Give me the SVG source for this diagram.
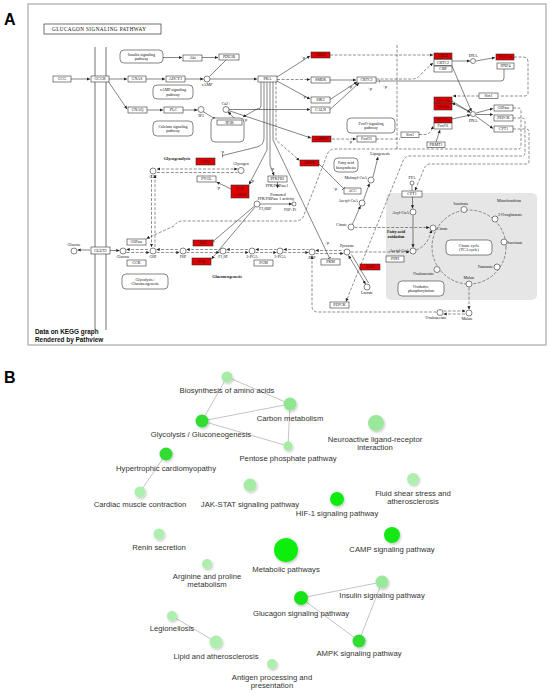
<svg xmlns="http://www.w3.org/2000/svg" width="550" height="694" viewBox="0 0 550 694">
<style>
.bx{fill:#fff;stroke:#333;stroke-width:0.6}
.rd{fill:#e00000;stroke:#333;stroke-width:0.6}
.pw{fill:#fff;stroke:#333;stroke-width:0.6}
.c{fill:#fff;stroke:#333;stroke-width:0.6}
.t{font-family:"Liberation Serif",serif;font-size:4px;fill:#111;text-anchor:middle}
.tl{font-family:"Liberation Serif",serif;font-size:4px;fill:#111;text-anchor:end}
.ts{font-family:"Liberation Serif",serif;font-size:4px;fill:#111;text-anchor:start}
.tr{font-family:"Liberation Serif",serif;font-size:4px;fill:#500;text-anchor:middle}
.tb{font-family:"Liberation Serif",serif;font-size:4.2px;font-weight:bold;fill:#111;text-anchor:middle}
.ln{fill:none;stroke:#333;stroke-width:0.6}
.ds{fill:none;stroke:#444;stroke-width:0.6;stroke-dasharray:3,1.6}
.la{font-family:"Liberation Sans",Arial,sans-serif;font-size:7.7px;fill:#333;text-anchor:middle}
.ed{stroke:#c4c4c4;stroke-width:1;fill:none}
.nd{filter:url(#sh)}
</style>
<defs>
<marker id="a" viewBox="0 0 6 6" refX="6" refY="3" markerWidth="3.2" markerHeight="3.2" markerUnits="userSpaceOnUse" orient="auto-start-reverse"><path d="M0,0L6,3L0,6z" fill="#222"/></marker>
<marker id="tb" viewBox="0 0 2 8" refX="1" refY="4" markerWidth="1" markerHeight="4" markerUnits="userSpaceOnUse" orient="auto"><path d="M1,0V8" stroke="#222" stroke-width="1.2"/></marker>
<filter id="sh" x="-60%" y="-60%" width="220%" height="220%"><feDropShadow dx="1" dy="1.5" stdDeviation="1.3" flood-color="#000" flood-opacity="0.22"/></filter>
</defs>
<rect width="550" height="694" fill="#fff"/>

<!-- Panel A -->
<text x="4" y="25" font-family="Liberation Sans,Arial,sans-serif" font-size="16" font-weight="bold" fill="#000">A</text>
<rect x="28" y="4" width="518" height="341" fill="#fff" stroke="#a8a8a8" stroke-width="1.2"/>
<g id="title"><rect x="44" y="24" width="117" height="10" fill="#fff" stroke="#333" stroke-width="0.7"/><text x="52" y="31" font-family="Liberation Serif,serif" font-size="5.2" fill="#111" textLength="94">GLUCAGON SIGNALING PATHWAY</text></g>
<rect x="386" y="193" width="151" height="107" rx="5" fill="#e6e6e6"/>
<g id="membrane" stroke="#8a8a8a" stroke-width="1.2"><line x1="95" y1="47" x2="95" y2="330"/><line x1="106" y1="47" x2="106" y2="330"/></g>
<line x1="397" y1="45" x2="397" y2="149" class="ds"/>

<g id="connectors-A">
<path class="ln" marker-end="url(#a)" d="M71,79H90"/>
<path class="ln" marker-end="url(#a)" d="M109,79H127"/>
<path class="ln" marker-end="url(#a)" d="M108,81L127,109"/>
<path class="ln" marker-end="url(#a)" d="M146,79H165"/>
<path class="ln" marker-end="url(#a)" d="M185,79H203.5"/>
<path class="ln" marker-end="url(#a)" d="M210,79H257"/>
<path class="ln" marker-end="url(#a)" d="M163,57.5H182"/>
<path class="ln" marker-end="url(#a)" d="M202,57.5H218"/>
<path class="ln" d="M226,60L209.5,76.5"/>
<path class="ln" marker-end="url(#a)" d="M147,110H163"/>
<path class="ln" marker-end="url(#a)" d="M183,110H197.5"/>
<path class="ln" marker-end="url(#a)" d="M203,111.5L216,119.5"/>
<path class="ln" marker-end="url(#a)" d="M236,120L228,111.8"/>
<path class="ln" marker-end="url(#a)" d="M229,109.5H310"/>
<path class="ln" marker-end="url(#a)" d="M228.8,110.6L311,138"/>
<path class="ds" marker-end="url(#a)" d="M332,139H356"/>
<path class="ln" marker-end="url(#a)" d="M277,77L310,56"/>
<path class="ds" marker-end="url(#a)" d="M277,79.5H310"/>
<path class="ln" marker-end="url(#a)" d="M277,81L310,99"/>
<path class="ln" marker-end="url(#a)" d="M330,80H356"/>
<path class="ln" marker-end="url(#a)" d="M330,99.5L357,82"/>
<path class="ln" marker-end="url(#a)" d="M330,109.5L359,83"/>
<path class="ds" marker-end="url(#a)" d="M330,55H433"/>
<path class="ds" marker-end="url(#a)" d="M376,79H412Q418,79 422,73L433,63"/>
<path class="ln" marker-start="url(#tb)" d="M379,81H501Q504,81 504,78V69"/>
<path class="ln" d="M376,81H379"/>
<path class="ln" marker-end="url(#a)" d="M452,61H470"/>
<path class="ln" marker-end="url(#a)" d="M476,61L495,57.5"/>
<path class="ds" d="M514,57H523Q528,57 528,62V93Q528,96 524,96H499"/>
<path class="ds" marker-end="url(#a)" d="M479,96H453"/>
<path class="ln" marker-end="url(#a)" d="M452,66L471.5,111.5"/>
<path class="ln" marker-end="url(#a)" d="M452,101L470.5,112.5"/>
<path class="ln" marker-end="url(#a)" d="M452,119L470.5,115"/>
<path class="ln" marker-end="url(#a)" d="M470,112L452,103"/>
<path class="ln" marker-end="url(#a)" d="M476,113L493,108.5"/>
<path class="ln" marker-end="url(#a)" d="M476,114.5H493"/>
<path class="ln" marker-end="url(#a)" d="M475.5,116L493,128.5"/>
<path class="ds" marker-end="url(#a)" d="M419,134.5H426Q431,134 433,126"/>
<path class="ln" marker-end="url(#a)" d="M436,142L440,130"/>
<path class="ds" d="M376,139H400"/>
<!-- PKA bundle -->
<path class="ln" marker-end="url(#a)" d="M261,82V106Q261,109 257,109L243,117"/>
<path class="ln" marker-end="url(#tb)" d="M264,82V138Q264,145 257,147L222.5,155.5"/>
<path class="ln" marker-end="url(#a)" d="M267,82V150L249,184.5"/>
<path class="ln" marker-end="url(#a)" d="M270,82V165L274,175.5"/>
<path class="ln" marker-end="url(#tb)" d="M273,82V140L329.5,258"/>
<path class="ds" marker-end="url(#a)" d="M276,82V140L299.5,160.5"/>
<path class="ln" marker-end="url(#tb)" d="M319,164L343.5,188.5"/>
<path class="ln" marker-end="url(#a)" d="M231,189L216.5,182"/>
<path class="ln" marker-end="url(#a)" d="M277.5,182V188"/>
<!-- glycogen -->
<path class="ds" marker-start="url(#a)" marker-end="url(#a)" d="M157,169H237.5"/>
<path class="ds" d="M157,172.5H237.5"/>
<path class="ds" marker-end="url(#a)" d="M151.5,175V247"/>
<path class="ds" marker-start="url(#a)" d="M155,175V247"/>
<!-- glucose row -->
<path class="ln" marker-end="url(#a)" d="M90,250H77.5"/>
<path class="ln" marker-end="url(#a)" d="M110,250.5H119.5"/>
<path class="ds" marker-start="url(#a)" d="M126.5,249.5H149.5"/>
<path class="ds" marker-end="url(#a)" d="M126.5,252.5H149.5"/>
<path class="ds" marker-start="url(#a)" d="M156.5,249.5H179.5"/>
<path class="ds" marker-end="url(#a)" d="M156.5,252.5H179.5"/>
<path class="ds" marker-start="url(#a)" d="M186.5,249.5H219.5"/>
<path class="ds" marker-end="url(#a)" d="M186.5,252.5H219.5"/>
<path class="ds" marker-start="url(#a)" d="M226.5,249.5H248.5"/>
<path class="ds" marker-end="url(#a)" d="M226.5,252.5H248.5"/>
<path class="ds" marker-start="url(#a)" d="M255.5,249.5H276.5"/>
<path class="ds" marker-end="url(#a)" d="M255.5,252.5H276.5"/>
<path class="ds" marker-start="url(#a)" d="M283.5,249.5H308.5"/>
<path class="ds" marker-end="url(#a)" d="M283.5,252.5H308.5"/>
<path class="ds" marker-start="url(#a)" d="M315.5,250.5H343.5"/>
<path class="ds" marker-end="url(#a)" d="M315.5,253.5H343.5"/>
<path class="ln" marker-end="url(#tb)" d="M254.5,206L213.5,241"/>
<path class="ln" marker-end="url(#a)" d="M255,207L211.5,259"/>
<path class="ln" marker-end="url(#a)" d="M260,204H292"/>
<path class="ln" marker-start="url(#a)" marker-end="url(#a)" d="M348.5,255.5L365.5,284"/>
<path class="ln" d="M351.5,254.5L368.5,283"/>
<path class="ds" marker-end="url(#a)" d="M350.5,252H409.5"/>
<path class="ds" marker-end="url(#a)" d="M354.5,227.5H429.5"/>
<path class="ln" marker-end="url(#a)" d="M352.5,224L360.5,206"/>
<path class="ln" marker-end="url(#a)" d="M363.5,200L369.5,183.5"/>
<path class="ln" marker-end="url(#a)" d="M373,177L378,157"/>
<path class="ln" d="M412,185V191"/>
<path class="ln" marker-end="url(#a)" d="M412.5,197V208.5"/>
<path class="ln" marker-end="url(#a)" d="M413,215.5V247.5"/>
<path class="ds" marker-end="url(#a)" d="M416,250Q428,246 431.5,230"/>
<circle cx="469" cy="247" r="37" class="ds"/>
<path class="ds" marker-end="url(#a)" d="M469,287.5V309.5"/>
<path class="ds" marker-end="url(#a)" d="M443.5,311H465.5"/>
<path class="ds" marker-start="url(#a)" d="M443.5,314H465.5"/>
<path class="ds" marker-end="url(#a)" d="M436.5,312H318Q312,312 312,306V256"/>
<path class="ds" marker-end="url(#a)" d="M513,108H518Q521,108 521,111V146Q521,149 518,149H335Q329,149 327,155L304,215Q302,221 296,221H182Q177,221 174,226L146.5,238.5"/>
<path class="ds" marker-end="url(#a)" d="M513,118H522Q525,118 525,121V153Q525,156 522,156H410Q405,156 403,161L346,301.5"/>
<path class="ds" marker-end="url(#a)" d="M513,129H526Q529,129 529,132V161Q529,164 526,164H430Q426,164 424,169L415,190.5"/>
</g>

<g id="plabels">
<text class="t" x="303" y="59">+p</text><text class="t" x="304" y="98">+p</text><text class="t" x="350" y="88">+p</text><text class="t" x="370" y="90">+p</text><text class="t" x="385" y="88">+p</text>
<text class="t" x="350" y="143">+p</text><text class="t" x="245" y="121">+p</text><text class="t" x="222" y="153">+p</text><text class="t" x="252" y="182">+p</text><text class="t" x="218" y="189">+p</text><text class="t" x="272" y="170">+p</text><text class="t" x="335" y="190">+p</text><text class="t" x="327" y="244">+p</text>
</g>

<g id="nodes-A">
<g id="GCG"><rect class="bx" x="53" y="76" width="18" height="6"/><text class="t" x="62" y="80.4">GCG</text></g>
<g id="GCGR"><rect class="bx" x="91" y="76" width="18" height="6"/><text class="t" x="100" y="80.4">GCGR</text></g>
<g id="GNAS"><rect class="bx" x="128" y="76" width="18" height="6"/><text class="t" x="137" y="80.4">GNAS</text></g>
<g id="ADCY2"><rect class="bx" x="166" y="76" width="19" height="6"/><text class="t" x="175.5" y="80.4">ADCY2</text></g>
<g id="GNAQ"><rect class="bx" x="128" y="107" width="19" height="6"/><text class="t" x="137.5" y="111.4">GNAQ</text></g>
<g id="PLC"><rect class="bx" x="164" y="107" width="19" height="6"/><text class="t" x="173.5" y="111.4">PLC</text></g>
<g id="Akt"><rect class="bx" x="183" y="55" width="19" height="6"/><text class="t" x="192.5" y="59.4">Akt</text></g>
<g id="PDE3B"><rect class="bx" x="219" y="54" width="20" height="6"/><text class="t" x="229" y="58.4">PDE3B</text></g>
<g id="PKA"><rect class="bx" x="258" y="76" width="19" height="6"/><text class="t" x="267.5" y="80.4">PKA</text></g>
<g id="CREB"><rect class="rd" x="311" y="52" width="19" height="6"/><text class="tr" x="320.5" y="56.4">CREB</text></g>
<g id="SMEK"><rect class="bx" x="311" y="77" width="19" height="6"/><text class="t" x="320.5" y="81.4">SMEK</text></g>
<g id="SIK2"><rect class="bx" x="311" y="97" width="19" height="6"/><text class="t" x="320.5" y="101.4">SIK2</text></g>
<g id="CALN"><rect class="bx" x="311" y="107" width="19" height="6"/><text class="t" x="320.5" y="111.4">CALN</text></g>
<g id="CRTC2"><rect class="bx" x="357" y="77" width="19" height="6"/><text class="t" x="366.5" y="81.4">CRTC2</text></g>
<g id="CaMKII"><rect class="rd" x="312" y="136" width="19" height="6"/><text class="tr" x="321.5" y="140.4">CaMKII</text></g>
<g id="FoxO1"><rect class="bx" x="357" y="136" width="19" height="6"/><text class="t" x="366.5" y="140.4">FoxO1</text></g>
<g id="ER"><rect class="pw" x="211" y="118" width="33" height="24" rx="4"/><rect class="bx" x="217" y="120" width="25" height="5"/><text class="t" x="229.5" y="123.9">IP3R</text></g>
<g id="GYS2"><rect class="rd" x="196" y="158" width="19" height="7"/><text class="tr" x="205.5" y="162.9">GYS2</text></g>
<g id="PYGL"><rect class="bx" x="197" y="176" width="19" height="6"/><text class="t" x="206.5" y="180.4">PYGL</text></g>
<g id="PHK"><rect class="rd" x="231" y="185" width="18" height="13"/><text class="tr" x="240" y="190.4">PHK</text><text class="tr" x="240" y="196">CALM</text></g>
<g id="PFKFB1"><rect class="bx" x="268" y="176" width="19" height="6"/><text class="t" x="277.5" y="180.4">PFKFB1</text></g>
<g id="AMPK"><rect class="rd" x="300" y="160" width="19" height="6"/><text class="tr" x="309.5" y="164.4">AMPK</text></g>
<g id="ACC"><rect class="bx" x="344" y="188" width="17" height="6"/><text class="t" x="352.5" y="192.4">ACC</text></g>
<g id="FBP"><rect class="rd" x="193" y="240" width="20" height="6"/><text class="tr" x="203" y="244.4">FBP</text></g>
<g id="PFK"><rect class="rd" x="192" y="258" width="19" height="7"/><text class="tr" x="201.5" y="262.9">PFK</text></g>
<g id="G6Pase"><rect class="bx" x="127" y="239" width="19" height="6"/><text class="t" x="136.5" y="243.4">G6Pase</text></g>
<g id="GCK"><rect class="bx" x="127" y="260" width="19" height="6"/><text class="t" x="136.5" y="264.4">GCK</text></g>
<g id="GLUT2"><rect class="bx" x="91" y="247" width="19" height="7"/><text class="t" x="100.5" y="251.9">GLUT2</text></g>
<g id="PGM"><rect class="bx" x="254" y="260" width="19" height="6"/><text class="t" x="263.5" y="264.4">PGM</text></g>
<g id="PKM"><rect class="bx" x="321" y="259" width="19" height="6"/><text class="t" x="330.5" y="263.4">PKM</text></g>
<g id="LDH"><rect class="rd" x="360" y="264" width="20" height="6"/><text class="tr" x="370" y="268.4">LDH</text></g>
<g id="PEPCK"><rect class="bx" x="330" y="302" width="19" height="6"/><text class="t" x="339.5" y="306.4">PEPCK</text></g>
<g id="PDH"><rect class="bx" x="386" y="256" width="18" height="6"/><text class="t" x="395" y="260.4">PDH</text></g>
<g id="CPT1"><rect class="bx" x="402" y="191" width="20" height="6"/><text class="t" x="412" y="195.4">CPT1</text></g>
<g id="nCREB"><rect class="rd" x="434" y="53" width="18" height="6"/><text class="tr" x="443" y="57.4">CREB</text></g>
<g id="nCRTC2"><rect class="bx" x="434" y="59.5" width="18" height="6"/><text class="t" x="443" y="63.9">CRTC2</text></g>
<g id="nCBP"><rect class="bx" x="434" y="66" width="18" height="6"/><text class="t" x="443" y="70.4">CBP</text></g>
<g id="PGC1a-1"><rect class="rd" x="496" y="54" width="18" height="6"/><text class="tr" x="505" y="58.4">PGC-1α</text></g>
<g id="HNF4"><rect class="bx" x="497" y="63" width="17" height="6"/><text class="t" x="505.5" y="67.4">HNF4</text></g>
<g id="Sirt1-1"><rect class="bx" x="479" y="93" width="19" height="5.5"/><text class="t" x="488.5" y="97.2">Sirt1</text></g>
<g id="PGC1a-2"><rect class="rd" x="434" y="97" width="18" height="6.5"/><text class="tr" x="443" y="101.6">PGC-1α</text></g>
<g id="PPARa"><rect class="rd" x="434" y="103.5" width="18" height="6.5"/><text class="tr" x="443" y="108.1">PPARα</text></g>
<g id="PGC1a-3"><rect class="rd" x="434" y="117" width="18" height="6"/><text class="tr" x="443" y="121.4">PGC-1α</text></g>
<g id="nFoxO1"><rect class="bx" x="434" y="123" width="18" height="6"/><text class="t" x="443" y="127.4">FoxO1</text></g>
<g id="PRMT1"><rect class="bx" x="427" y="142" width="18" height="5.5"/><text class="t" x="436" y="146.2">PRMT1</text></g>
<g id="Sirt1-2"><rect class="bx" x="401" y="132" width="18" height="5.5"/><text class="t" x="410" y="136.2">Sirt1</text></g>
<g id="nG6Pase"><rect class="bx" x="494" y="105" width="19" height="6"/><text class="t" x="503.5" y="109.4">G6Pase</text></g>
<g id="nPEPCK"><rect class="bx" x="494" y="115" width="19" height="6"/><text class="t" x="503.5" y="119.4">PEPCK</text></g>
<g id="nCPT1"><rect class="bx" x="494" y="126" width="19" height="6"/><text class="t" x="503.5" y="130.4">CPT1</text></g>

<g id="pw-insulin"><rect class="pw" x="120" y="50" width="43" height="13" rx="4"/><text class="t" x="141.5" y="55.5">Insulin signaling</text><text class="t" x="141.5" y="60">pathway</text></g>
<g id="pw-camp"><rect class="pw" x="153" y="85" width="40" height="14" rx="4"/><text class="t" x="173" y="91">cAMP signaling</text><text class="t" x="173" y="95.5">pathway</text></g>
<g id="pw-calcium"><rect class="pw" x="153" y="121" width="40" height="15" rx="4"/><text class="t" x="173" y="127.5">Calcium signaling</text><text class="t" x="173" y="132">pathway</text></g>
<g id="pw-foxo"><rect class="pw" x="347" y="118" width="48" height="15" rx="4"/><text class="t" x="371" y="124.5">FoxO signaling</text><text class="t" x="371" y="129">pathway</text></g>
<g id="pw-fab"><rect class="pw" x="334" y="158" width="24" height="14" rx="4"/><text class="t" x="346" y="164">Fatty acid</text><text class="t" x="346" y="168.5">biosynthesis</text></g>
<g id="pw-glyc"><rect class="pw" x="122" y="274" width="46" height="15" rx="4"/><text class="t" x="145" y="280.5">Glycolysis /</text><text class="t" x="145" y="285">Gluconeogenesis</text></g>
<g id="pw-tca"><rect class="pw" x="446" y="240" width="46" height="15" rx="4"/><text class="t" x="469" y="246.5">Citrate cycle</text><text class="t" x="469" y="251">(TCA cycle)</text></g>
<g id="pw-ox"><rect class="pw" x="398" y="281" width="46" height="15" rx="4"/><text class="t" x="421" y="287.5">Oxidative</text><text class="t" x="421" y="292">phosphorylation</text></g>

<g id="c-cAMP"><circle class="c" cx="207" cy="79" r="3"/><text class="t" x="207" y="86">cAMP</text></g>
<g id="c-IP3"><circle class="c" cx="201" cy="109.5" r="3"/><text class="t" x="201" y="116.5">IP3</text></g>
<g id="c-Ca"><circle class="c" cx="226" cy="109.5" r="3"/><text class="t" x="226" y="104.5">Ca2+</text></g>
<g id="c-G1P"><circle class="c" cx="153" cy="171" r="3"/><text class="t" x="153" y="178">G1P</text></g>
<g id="c-Glycogen"><circle class="c" cx="241" cy="170.5" r="3"/><text class="t" x="241" y="165">Glycogen</text></g>
<g id="c-F26BP"><circle class="c" cx="257" cy="204" r="3"/><text class="ts" x="259" y="210">F2,6BP</text></g>
<g id="c-F6PPi"><circle class="c" cx="294" cy="204" r="2"/><text class="t" x="290" y="211">F6P+Pi</text></g>
<text class="t" x="277" y="187">PFK/FBPase1</text>
<text class="t" x="278" y="195.5">Promoted</text>
<text class="t" x="276" y="199.5">PFK/FBPase 1 activity</text>
<g id="c-GlcOut"><circle class="c" cx="74" cy="251" r="3"/><text class="t" x="74" y="246">Glucose</text></g>
<g id="c-GlcIn"><circle class="c" cx="123" cy="251" r="3"/><text class="t" x="123" y="257.5">Glucose</text></g>
<g id="c-G6P"><circle class="c" cx="153" cy="251" r="3"/><text class="t" x="153" y="258">G6P</text></g>
<g id="c-F6P"><circle class="c" cx="183" cy="251" r="3"/><text class="t" x="183" y="258">F6P</text></g>
<g id="c-F16P"><circle class="c" cx="223" cy="251" r="3"/><text class="t" x="223" y="258">F1,6P</text></g>
<g id="c-3PGA"><circle class="c" cx="252" cy="251" r="3"/><text class="t" x="252" y="258">3-PGA</text></g>
<g id="c-2PGA"><circle class="c" cx="280" cy="251" r="3"/><text class="t" x="280" y="258">2-PGA</text></g>
<g id="c-PEP"><circle class="c" cx="312" cy="252" r="3"/><text class="t" x="312" y="259">PEP</text></g>
<g id="c-Pyr"><circle class="c" cx="347" cy="252" r="3"/><text class="t" x="347" y="246.5">Pyruvate</text></g>
<g id="c-Lac"><circle class="c" cx="367" cy="287" r="3"/><text class="t" x="367" y="294">Lactate</text></g>
<g id="c-MalCoA"><circle class="c" cx="371" cy="180" r="3"/><text class="tl" x="367" y="178.5">Malonyl-CoA</text></g>
<g id="c-AcCoA1"><circle class="c" cx="362" cy="203" r="3"/><text class="tl" x="358" y="201.5">Acetyl-CoA</text></g>
<g id="c-Cit1"><circle class="c" cx="351" cy="227" r="3"/><text class="tl" x="347" y="225.5">Citrate</text></g>
<text class="t" x="380" y="155">Lipogenesis</text>
<g id="c-FFA"><circle class="c" cx="412" cy="183" r="2"/><text class="t" x="412" y="179">FFA</text></g>
<g id="c-AcylCoA"><circle class="c" cx="413" cy="212" r="3"/><text class="tl" x="409" y="213.5">Acyl-CoA</text></g>
<g id="c-AcCoA2"><circle class="c" cx="413" cy="251" r="3"/><text class="tl" x="409" y="251.5">Acetyl-CoA</text></g>
<g id="c-Cit2"><circle class="c" cx="433" cy="228" r="3"/><text class="ts" x="437" y="229.5">Citrate</text></g>
<g id="c-Iso"><circle class="c" cx="464" cy="209.5" r="3"/><text class="t" x="461" y="204.5">Isocitrate</text></g>
<g id="c-2OG"><circle class="c" cx="495" cy="219" r="3"/><text class="ts" x="498" y="216">2-Oxoglutarate</text></g>
<g id="c-Suc"><circle class="c" cx="504" cy="242" r="3"/><text class="ts" x="507" y="244">Succinate</text></g>
<g id="c-Fum"><circle class="c" cx="497" cy="267" r="3"/><text class="tl" x="493" y="267.5">Fumarate</text></g>
<g id="c-Mal"><circle class="c" cx="469" cy="284" r="3"/><text class="t" x="469" y="279">Malate</text></g>
<g id="c-OAA"><circle class="c" cx="437" cy="269.5" r="3"/><text class="tl" x="434" y="275">Oxaloacetate</text></g>
<g id="c-OAA2"><circle class="c" cx="440" cy="312.5" r="3"/><text class="t" x="436" y="319">Oxaloacetate</text></g>
<g id="c-Mal2"><circle class="c" cx="469" cy="313" r="3"/><text class="t" x="467" y="320">Malate</text></g>
<g id="c-DNA1"><circle class="c" cx="473" cy="61" r="2.5"/><text class="t" x="473" y="57">DNA</text></g>
<g id="c-DNA2"><circle class="c" cx="473" cy="114" r="2.5"/><text class="t" x="473" y="121.5">DNA</text></g>
<text class="t" x="509" y="201.5">Mitochondrion</text>
<text class="tb" x="396" y="233">Fatty acid</text><text class="tb" x="396" y="237.5">oxidation</text>
<text class="tb" x="177" y="159.5">Glycogenolysis</text>
<text class="tb" x="227" y="277.5">Gluconeogenesis</text>
</g>
<text x="35" y="334" font-family="Liberation Sans,Arial,sans-serif" font-size="6.4" font-weight="bold" fill="#111">Data on KEGG graph</text>
<text x="35" y="342" font-family="Liberation Sans,Arial,sans-serif" font-size="6.4" font-weight="bold" fill="#111">Rendered by Pathview</text>

<!-- Panel B -->
<text x="4" y="383" font-family="Liberation Sans,Arial,sans-serif" font-size="16" font-weight="bold" fill="#000">B</text>
<g id="edges-B">
<line class="ed" x1="227" y1="377" x2="290" y2="404"/>
<line class="ed" x1="227" y1="377" x2="202" y2="421"/>
<line class="ed" x1="202" y1="421" x2="290" y2="404"/>
<line class="ed" x1="202" y1="421" x2="288" y2="446"/>
<line class="ed" x1="290" y1="404" x2="288" y2="446"/>
<line class="ed" x1="166" y1="454" x2="140" y2="492"/>
<line class="ed" x1="301" y1="598" x2="382" y2="582"/>
<line class="ed" x1="301" y1="598" x2="359" y2="641"/>
<line class="ed" x1="382" y1="582" x2="359" y2="641"/>
<line class="ed" x1="172" y1="616" x2="216" y2="642"/>
</g>
<g id="nodes-B">
<g id="b-biosyn"><circle class="nd" cx="227" cy="377" r="5.5" fill="#a6eca6"/><text class="la" x="227" y="393">Biosynthesis of amino acids</text></g>
<g id="b-carbon"><circle class="nd" cx="290" cy="404" r="6.5" fill="#8fe68f"/><text class="la" x="290" y="421">Carbon metabolism</text></g>
<g id="b-glyc"><circle class="nd" cx="202" cy="421" r="6.5" fill="#30dc30"/><text class="la" x="201" y="437">Glycolysis / Gluconeogenesis</text></g>
<g id="b-pentose"><circle class="nd" cx="288" cy="446" r="4.5" fill="#a6eca6"/><text class="la" x="288" y="461">Pentose phosphate pathway</text></g>
<g id="b-neuro"><circle class="nd" cx="376" cy="423" r="8" fill="#9ae89a"/><text class="la" x="375" y="442">Neuroactive ligand-receptor</text><text class="la" x="375" y="450">interaction</text></g>
<g id="b-hyper"><circle class="nd" cx="166" cy="454" r="6.5" fill="#30dc30"/><text class="la" x="166" y="471">Hypertrophic cardiomyopathy</text></g>
<g id="b-jak"><circle class="nd" cx="250" cy="485" r="6.5" fill="#a6eca6"/><text class="la" x="250" y="507">JAK-STAT signaling pathway</text></g>
<g id="b-cardiac"><circle class="nd" cx="140" cy="492" r="5.5" fill="#aeeeae"/><text class="la" x="140" y="507">Cardiac muscle contraction</text></g>
<g id="b-fluid"><circle class="nd" cx="413" cy="479" r="6" fill="#aeeeae"/><text class="la" x="413" y="496">Fluid shear stress and</text><text class="la" x="413" y="504">atherosclerosis</text></g>
<g id="b-hif"><circle class="nd" cx="337" cy="499" r="7" fill="#10ec10"/><text class="la" x="337" y="516">HIF-1 signaling pathway</text></g>
<g id="b-renin"><circle class="nd" cx="159" cy="534" r="5.5" fill="#aeeeae"/><text class="la" x="159" y="550">Renin secretion</text></g>
<g id="b-camp"><circle class="nd" cx="392" cy="535" r="8" fill="#14e814"/><text class="la" x="392" y="552">CAMP signaling pathway</text></g>
<g id="b-metab"><circle class="nd" cx="286" cy="550" r="12" fill="#10ee10"/><text class="la" x="286" y="572">Metabolic pathways</text></g>
<g id="b-arg"><circle class="nd" cx="207" cy="564" r="5" fill="#aeeeae"/><text class="la" x="207" y="579">Arginine and proline</text><text class="la" x="207" y="587">metabolism</text></g>
<g id="b-insulin"><circle class="nd" cx="382" cy="582" r="6.5" fill="#9ae89a"/><text class="la" x="382" y="598">Insulin signaling pathway</text></g>
<g id="b-glucagon"><circle class="nd" cx="301" cy="598" r="7" fill="#18e418"/><text class="la" x="301" y="616">Glucagon signaling pathway</text></g>
<g id="b-legion"><circle class="nd" cx="172" cy="616" r="5" fill="#aeeeae"/><text class="la" x="172" y="631">Legionellosis</text></g>
<g id="b-lipid"><circle class="nd" cx="216" cy="642" r="6.5" fill="#aeeeae"/><text class="la" x="216" y="659">Lipid and atherosclerosis</text></g>
<g id="b-ampk"><circle class="nd" cx="359" cy="641" r="6.5" fill="#30dc30"/><text class="la" x="359" y="656">AMPK signaling pathway</text></g>
<g id="b-antigen"><circle class="nd" cx="272" cy="664" r="5" fill="#aeeeae"/><text class="la" x="272" y="680">Antigen processing and</text><text class="la" x="272" y="688">presentation</text></g>
</g>
</svg>
